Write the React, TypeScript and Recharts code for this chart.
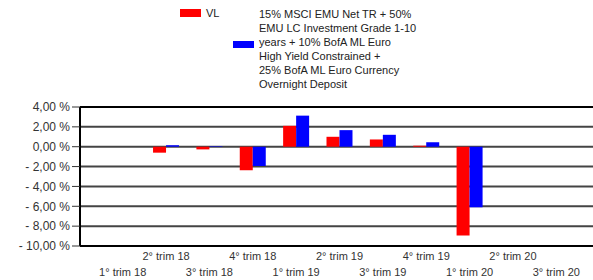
import React from 'react';
import {
  BarChart,
  Bar,
  XAxis,
  YAxis,
  CartesianGrid,
  ReferenceLine,
} from 'recharts';

const quarters = [
  '1° trim 18',
  '2° trim 18',
  '3° trim 18',
  '4° trim 18',
  '1° trim 19',
  '2° trim 19',
  '3° trim 19',
  '4° trim 19',
  '1° trim 20',
  '2° trim 20',
  '3° trim 20',
];

const fundValues = [null, -0.6, -0.27, -2.37, 2.1, 1.0, 0.73, 0.1, -8.93, null, null];
const benchmarkValues = [null, 0.15, 0.05, -1.95, 3.13, 1.67, 1.2, 0.45, -6.1, null, null];

const fundName = 'VL';
const benchmarkLines = [
  '15% MSCI EMU Net TR + 50%',
  'EMU LC Investment Grade 1-10',
  'years + 10% BofA ML Euro',
  'High Yield Constrained +',
  '25% BofA ML Euro Currency',
  'Overnight Deposit',
];

const yTicks = [4, 2, 0, -2, -4, -6, -8, -10];

const data = quarters.map((q, i) => ({
  quarter: q,
  vl: fundValues[i],
  bench: benchmarkValues[i],
}));

const FONT = 'Arial, "Liberation Sans", sans-serif';

function fmtPct(v: number) {
  const s = Math.abs(v).toFixed(2).replace('.', ',') + ' %';
  return v < 0 ? '- ' + s : s;
}

function QuarterTick(props: any) {
  const { x, y, payload, index } = props;
  const dy = index % 2 === 0 ? 19 : 3;
  return (
    <text
      x={x}
      y={y}
      dy={dy}
      textAnchor="middle"
      dominantBaseline="middle"
      fontSize={11}
      fontFamily={FONT}
      fill="#333"
    >
      {payload.value}
    </text>
  );
}

function ChartLegend() {
  return (
    <div style={{ position: 'absolute', left: 0, top: 0, fontFamily: FONT, fontSize: 11, color: '#222' }}>
      <div style={{ position: 'absolute', left: 180, top: 9, width: 21, height: 8, background: '#ff0000' }} />
      <div style={{ position: 'absolute', left: 206, top: 6, lineHeight: '14px', whiteSpace: 'nowrap' }}>{fundName}</div>
      <div style={{ position: 'absolute', left: 233, top: 41, width: 21, height: 7, background: '#0000ff' }} />
      <div style={{ position: 'absolute', left: 259, top: 7, lineHeight: '14px', whiteSpace: 'nowrap' }}>
        {benchmarkLines.map((l) => (
          <div key={l}>{l}</div>
        ))}
      </div>
    </div>
  );
}

export default function App() {
  return (
    <div style={{ position: 'absolute', left: 0, top: 0, width: 593, height: 280, background: '#fff' }}>
      <ChartLegend />
      <BarChart
        width={593}
        height={280}
        data={data}
        margin={{ top: 107, right: 0, bottom: 0, left: 0 }}
        barCategoryGap="20%"
        barGap={0}
        style={{ position: 'absolute', left: 0, top: 0 }}
      >
        <CartesianGrid vertical={false} stroke="#444" strokeWidth={2} />
        <XAxis
          dataKey="quarter"
          interval={0}
          height={34}
          tickLine={false}
          axisLine={{ stroke: '#000', strokeWidth: 2 }}
          tick={<QuarterTick />}
          padding={{ left: 21, right: 15 }}
        />
        <YAxis
          width={80}
          domain={[-10, 4]}
          ticks={yTicks}
          interval={0}
          tickSize={8}
          tickMargin={2}
          tickFormatter={fmtPct}
          axisLine={{ stroke: '#000', strokeWidth: 2 }}
          tickLine={{ stroke: '#333' }}
          tick={{ fontSize: 12, fontFamily: FONT, fill: '#333' }}
        />
        <ReferenceLine y={4} stroke="#000" strokeWidth={2} />
        <Bar dataKey="vl" name={fundName} fill="#ff0000" isAnimationActive={false} />
        <Bar dataKey="bench" name={benchmarkLines.join(' ')} fill="#0000ff" isAnimationActive={false} />
      </BarChart>
    </div>
  );
}
